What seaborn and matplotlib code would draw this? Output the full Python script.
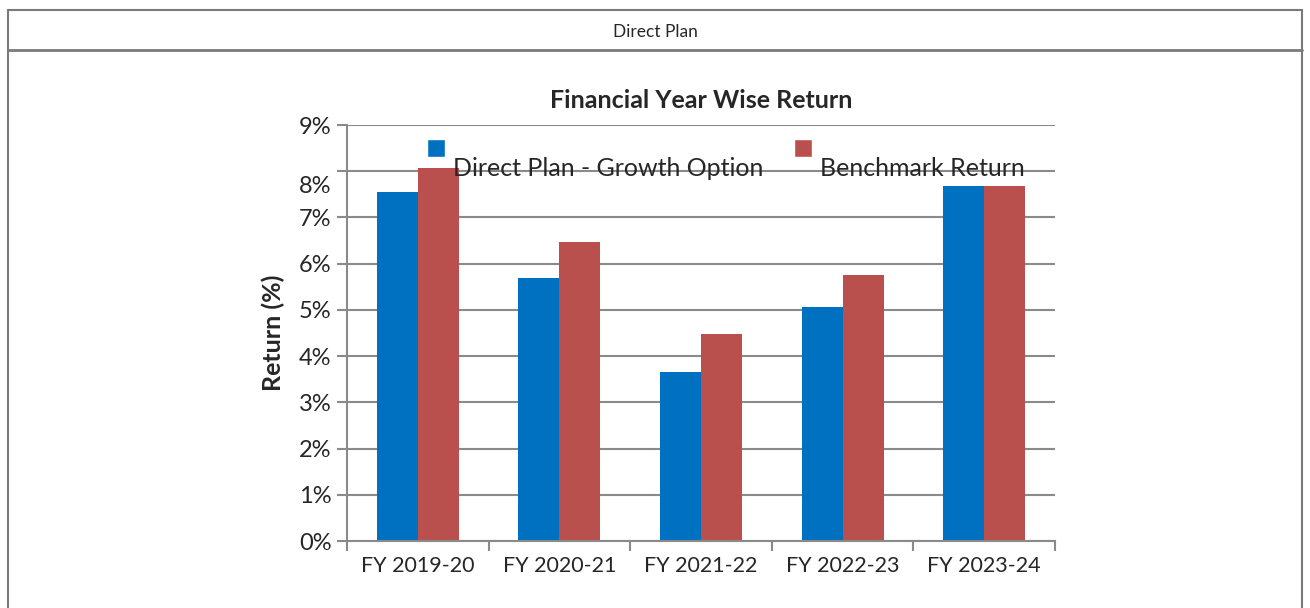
import matplotlib
matplotlib.use("Agg")
import matplotlib.pyplot as plt
import matplotlib.transforms as mtransforms
from matplotlib.patches import Rectangle
from matplotlib.legend_handler import HandlerPatch
from matplotlib.lines import Line2D
import pandas as pd
import seaborn as sns

# data
years = ["FY 2019-20", "FY 2020-21", "FY 2021-22", "FY 2022-23", "FY 2023-24"]
direct_growth = [7.56, 5.69, 3.66, 5.06, 7.68]
benchmark = [8.08, 6.47, 4.48, 5.75, 7.68]
series_names = ["Direct Plan - Growth Option", "Benchmark Return"]
colors = ["#0070C0", "#BA504D"]

df = pd.DataFrame({
    "year": years * 2,
    "ret": direct_growth + benchmark,
    "series": [series_names[0]] * len(years) + [series_names[1]] * len(years),
})

sns.set_style("white")
plt.rcParams["font.family"] = ["Lato", "DejaVu Sans"]

fig = plt.figure(figsize=(13.1, 6.08), dpi=100)
ax = fig.add_axes([347 / 1310, 1 - 541 / 608, (1055 - 347) / 1310, (541 - 125) / 608])

sns.barplot(data=df, x="year", y="ret", hue="series", palette=colors,
            width=0.58, saturation=1, linewidth=0, ax=ax, legend=False)

ax.set_ylim(0, 9)
ax.set_xlim(-0.5, 4.5)
ax.set_yticks(range(0, 10))
ax.set_yticklabels([f"{i}%" for i in range(0, 10)], fontsize=17)
ax.yaxis.grid(True, color="#8a8a8a", linewidth=1.5)
ax.set_axisbelow(True)
ax.tick_params(axis="y", length=7, width=1.5, color="#8a8a8a", left=True, pad=4)
ax.tick_params(axis="x", which="major", length=0, labelsize=15.5, pad=11)
ax.set_xticks([i - 0.5 for i in range(6)], minor=True)
ax.tick_params(axis="x", which="minor", length=7, width=1.5, color="#8a8a8a", bottom=True)
for s in ["top", "right"]:
    ax.spines[s].set_visible(False)
for s in ["left", "bottom"]:
    ax.spines[s].set_color("#8a8a8a")
    ax.spines[s].set_linewidth(1.5)
ax.set_xlabel("")
ax.set_ylabel("Return (%)", fontsize=18, fontweight="bold", labelpad=10)

# the 8% label sits a little low in the original
lbl = ax.get_yticklabels()[8]
lbl.set_transform(lbl.get_transform() + mtransforms.ScaledTranslation(0, -0.13, fig.dpi_scale_trans))

ax.set_title("Financial Year Wise Return", fontsize=18, fontweight="bold", pad=12)


# legend with swatches raised above the text, as in the original
def raised_patch(legend, orig_handle, xdescent, ydescent, width, height, fontsize):
    return Rectangle((-xdescent, -ydescent + height + 1), 13, 13)


handles = [Rectangle((0, 0), 1, 1, facecolor=c) for c in colors]
leg = ax.legend(handles, series_names, ncol=2, loc="center left",
                bbox_to_anchor=(0.113, (541 - 168) / 416), frameon=False, fontsize=18,
                borderpad=0, borderaxespad=0,
                handlelength=0.72, handletextpad=0.32, columnspacing=1.24,
                handler_map={Rectangle: HandlerPatch(patch_func=raised_patch)})

# outer table frame with header cell
frame_color = "#7a7a7a"
fig.add_artist(Rectangle((8 / 1310, -0.01), 1294 / 1310, 1 - 10 / 608 + 0.01,
                         transform=fig.transFigure, fill=False,
                         edgecolor=frame_color, linewidth=1.5))
fig.add_artist(Line2D([8 / 1310, 1302 / 1310], [1 - 50 / 608] * 2,
                      transform=fig.transFigure, color=frame_color, linewidth=2))
fig.text(0.5, 1 - 32 / 608, "Direct Plan", ha="center", va="center", fontsize=12.5)

fig.savefig("out.png", dpi=100)
